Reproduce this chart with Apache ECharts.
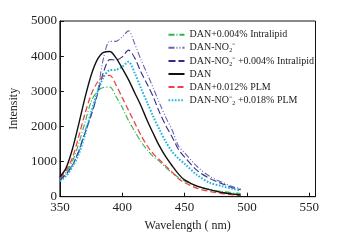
<!DOCTYPE html>
<html><head><meta charset="utf-8">
<script src="https://cdn.jsdelivr.net/npm/echarts@6/dist/echarts.min.js"></script>
<style>html,body{margin:0;padding:0;background:#fff}#c{width:343px;height:242px}</style>
</head><body><div id="c"></div>
<script>
const wavelength = [350,355,360,365,370,375,380,385,390,395,400,405,410,415,420,425,430,435,440,445,450,460,470,480,490,495];
const xTicks = [350,400,450,500,550];
const yTicks = [0,1000,2000,3000,4000,5000];
const names = ['DAN+0.004% Intralipid','DAN-NO₂⁻','DAN-NO₂⁻ +0.004% Intralipid','DAN','DAN+0.012% PLM','DAN-NO⁻₂ +0.018% PLM'];
const danIntralipid = [490,700,1000,1500,2100,2700,3000,3110,3120,2850,2540,2170,1860,1570,1330,1140,1000,830,680,550,450,300,210,150,110,90];
const danNO2 = [470,650,900,1300,1850,2350,2950,3950,4420,4420,4550,4720,4350,3900,3500,3080,2650,2250,1900,1450,1250,860,580,410,270,230];
const danNO2Intralipid = [460,640,890,1280,1800,2300,2900,3550,3900,3890,3980,4170,3950,3550,3200,2830,2390,2020,1700,1350,1130,750,520,370,240,200];
const dan = [560,820,1350,2050,2800,3450,3900,4110,4130,3950,3650,3330,2960,2590,2170,1790,1430,1130,880,650,480,300,200,120,70,50];
const danPLM = [520,750,1100,1700,2350,2900,3250,3430,3450,3180,2820,2460,2100,1750,1450,1220,1045,870,700,520,400,240,150,90,50,35];
const danNO2PLM = [440,590,850,1200,1750,2400,2950,3400,3600,3610,3700,3840,3520,3090,2680,2270,1900,1560,1280,1090,940,620,400,300,210,180];

const seriesData = [danIntralipid, danNO2, danNO2Intralipid, dan, danPLM, danNO2PLM];
const styles = [
  {color:'#2db54e', width:1.1, type:[6,2,1,2]},
  {color:'#6b5fb8', width:1.1, type:[6,2,1,2,1,2]},
  {color:'#2e2e86', width:1.1, type:[7,3]},
  {color:'#111111', width:1.4, type:'solid'},
  {color:'#ee4444', width:1.3, type:[6,3]},
  {color:'#1eb3dc', width:2, type:[1.6,1.6]}
];
const font = 'Liberation Serif';
const chart = echarts.init(document.getElementById('c'));
chart.setOption({
  animation:false,
  grid:{left:59.5, top:21, right:27.5, bottom:45.3, show:true, borderColor:'#111', borderWidth:1},
  legend:{
    orient:'vertical', left:167.5, top:29.7, padding:0, itemWidth:16, itemHeight:10, itemGap:3.1,
    itemStyle:{opacity:0},
    textStyle:{fontFamily:font, fontSize:10, color:'#222', lineHeight:10},
    data:names
  },
  xAxis:{
    type:'value', min:350, max:555, interval:50,
    name:'Wavelength ( nm)', nameLocation:'middle', nameGap:23,
    nameTextStyle:{fontFamily:font, fontSize:12, color:'#222'},
    axisLine:{lineStyle:{color:'#111'}},
    axisTick:{inside:true, length:4, lineStyle:{color:'#111'}},
    axisLabel:{fontFamily:font, fontSize:13, color:'#222', margin:4, showMaxLabel:false,
      formatter:v=> xTicks.includes(v) ? String(v) : ''},
    splitLine:{show:false}
  },
  yAxis:{
    type:'value', min:0, max:5000, interval:1000,
    name:'Intensity', nameLocation:'middle', nameGap:37,
    nameTextStyle:{fontFamily:font, fontSize:12, color:'#222'},
    axisLine:{lineStyle:{color:'#111'}},
    axisTick:{inside:true, length:4, lineStyle:{color:'#111'}},
    axisLabel:{fontFamily:font, fontSize:13, color:'#222', margin:3,
      formatter:v=> yTicks.includes(v) ? String(v) : ''},
    splitLine:{show:false}
  },
  series: names.map((n,i)=>({
    name:n, type:'line', smooth:0.3, symbol:'none',
    data: wavelength.map((w,j)=>[w, seriesData[i][j]]),
    lineStyle:styles[i], itemStyle:{color:styles[i].color}, z: i===3?5:2
  }))
});
</script></body></html>
